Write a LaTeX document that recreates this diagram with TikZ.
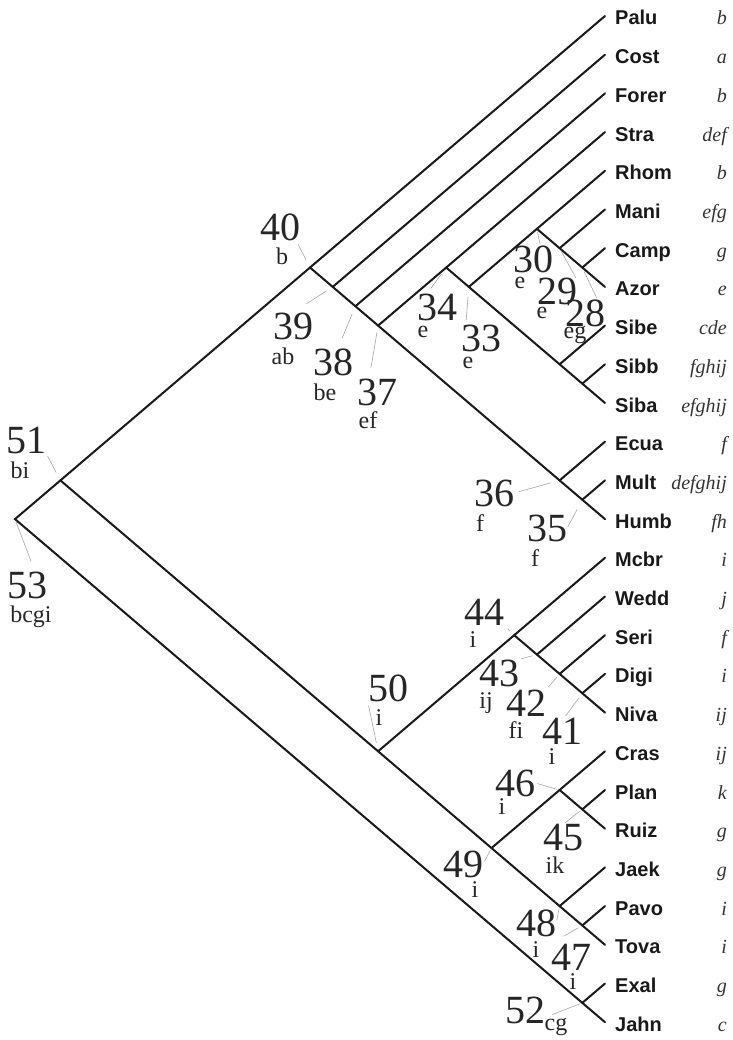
\documentclass[tikz,border=0pt]{standalone}
\usepackage{fontspec}
\setmainfont{Liberation Serif}
\setsansfont{Liberation Sans}
\usepackage{tikz}
\tikzstyle{branch} = [line width=2pt, draw=black!90, line cap=round]
\tikzstyle{leader} = [line width=0.6pt, draw=black!35]
\tikzstyle{taxon} = [anchor=base west, inner sep=0pt, text=black!90, font=\sffamily\bfseries\fontsize{20}{24}\selectfont]
\tikzstyle{area} = [anchor=base east, inner sep=0pt, text=black!80, font=\itshape\fontsize{20}{24}\selectfont]
\tikzstyle{clade} = [inner sep=0pt, text=black!85, font=\fontsize{40}{44}\selectfont]
\tikzstyle{cladearea} = [inner sep=0pt, text=black!85, font=\fontsize{24}{28}\selectfont]

\begin{document}
\begin{tikzpicture}[x=1pt, y=-1pt]
	\useasboundingbox (0,0) rectangle (732,1040);

		% Tips of the branches
		\coordinate (palu-tip) at (605,16);
		\coordinate (cost-tip) at (605,54.7);
		\coordinate (forer-tip) at (605,93.4);
		\coordinate (stra-tip) at (605,132.1);
		\coordinate (rhom-tip) at (605,170.8);
		\coordinate (mani-tip) at (605,209.5);
		\coordinate (camp-tip) at (605,248.2);
		\coordinate (azor-tip) at (605,286.9);
		\coordinate (sibe-tip) at (605,325.6);
		\coordinate (sibb-tip) at (605,364.3);
		\coordinate (siba-tip) at (605,403);
		\coordinate (ecua-tip) at (605,441.7);
		\coordinate (mult-tip) at (605,480.4);
		\coordinate (humb-tip) at (605,519.1);
		\coordinate (mcbr-tip) at (605,557.8);
		\coordinate (wedd-tip) at (605,596.5);
		\coordinate (seri-tip) at (605,635.2);
		\coordinate (digi-tip) at (605,673.9);
		\coordinate (niva-tip) at (605,712.6);
		\coordinate (cras-tip) at (605,751.3);
		\coordinate (plan-tip) at (605,790);
		\coordinate (ruiz-tip) at (605,828.7);
		\coordinate (jaek-tip) at (605,867.4);
		\coordinate (pavo-tip) at (605,906.1);
		\coordinate (tova-tip) at (605,944.8);
		\coordinate (exal-tip) at (605,983.5);
		\coordinate (jahn-tip) at (605,1022.2);

		% Clade nodes
		\coordinate (n53) at (15,519.1);
		\coordinate (n52) at (582.3,1002.85);
		\coordinate (n51) at (60.4,480.4);
		\coordinate (n50) at (378.1,751.3);
		\coordinate (n49) at (491.5,848.05);
		\coordinate (n48) at (559.6,906.1);
		\coordinate (n47) at (582.3,925.45);
		\coordinate (n46) at (559.6,790);
		\coordinate (n45) at (582.3,809.35);
		\coordinate (n44) at (514.2,635.2);
		\coordinate (n43) at (536.9,654.55);
		\coordinate (n42) at (559.6,673.9);
		\coordinate (n41) at (582.3,693.25);
		\coordinate (n40) at (310,267.55);
		\coordinate (n39) at (332.7,286.9);
		\coordinate (n38) at (355.4,306.25);
		\coordinate (n37) at (378.1,325.6);
		\coordinate (n36) at (559.6,480.4);
		\coordinate (n35) at (582.3,499.75);
		\coordinate (n34) at (446.2,267.55);
		\coordinate (n33) at (468.8,286.9);
		\coordinate (n32) at (559.6,364.3);
		\coordinate (n31) at (582.3,383.65);
		\coordinate (n30) at (536.9,228.85);
		\coordinate (n29) at (559.6,248.2);
		\coordinate (n28) at (582.3,267.55);

		% Draw the taxa
		\node (palu) [taxon] at (615,25) {Palu};
		\node (cost) [taxon] at (615,63.7) {Cost};
		\node (forer) [taxon] at (615,102.4) {Forer};
		\node (stra) [taxon] at (615,141.1) {Stra};
		\node (rhom) [taxon] at (615,179.8) {Rhom};
		\node (mani) [taxon] at (615,218.5) {Mani};
		\node (camp) [taxon] at (615,257.2) {Camp};
		\node (azor) [taxon] at (615,295.9) {Azor};
		\node (sibe) [taxon] at (615,334.6) {Sibe};
		\node (sibb) [taxon] at (615,373.3) {Sibb};
		\node (siba) [taxon] at (615,412) {Siba};
		\node (ecua) [taxon] at (615,450.7) {Ecua};
		\node (mult) [taxon] at (615,489.4) {Mult};
		\node (humb) [taxon] at (615,528.1) {Humb};
		\node (mcbr) [taxon] at (615,566.8) {Mcbr};
		\node (wedd) [taxon] at (615,605.5) {Wedd};
		\node (seri) [taxon] at (615,644.2) {Seri};
		\node (digi) [taxon] at (615,682.9) {Digi};
		\node (niva) [taxon] at (615,721.6) {Niva};
		\node (cras) [taxon] at (615,760.3) {Cras};
		\node (plan) [taxon] at (615,799) {Plan};
		\node (ruiz) [taxon] at (615,837.7) {Ruiz};
		\node (jaek) [taxon] at (615,876.4) {Jaek};
		\node (pavo) [taxon] at (615,915.1) {Pavo};
		\node (tova) [taxon] at (615,953.8) {Tova};
		\node (exal) [taxon] at (615,992.5) {Exal};
		\node (jahn) [taxon] at (615,1031.2) {Jahn};

		% Areas of the taxa
		\node (palu-ar) [area] at (727,25) {b};
		\node (cost-ar) [area] at (727,63.7) {a};
		\node (forer-ar) [area] at (727,102.4) {b};
		\node (stra-ar) [area] at (727,141.1) {def};
		\node (rhom-ar) [area] at (727,179.8) {b};
		\node (mani-ar) [area] at (727,218.5) {efg};
		\node (camp-ar) [area] at (727,257.2) {g};
		\node (azor-ar) [area] at (727,295.9) {e};
		\node (sibe-ar) [area] at (727,334.6) {cde};
		\node (sibb-ar) [area] at (727,373.3) {fghij};
		\node (siba-ar) [area] at (727,412) {efghij};
		\node (ecua-ar) [area] at (727,450.7) {f};
		\node (mult-ar) [area] at (727,489.4) {defghij};
		\node (humb-ar) [area] at (727,528.1) {fh};
		\node (mcbr-ar) [area] at (727,566.8) {i};
		\node (wedd-ar) [area] at (727,605.5) {j};
		\node (seri-ar) [area] at (727,644.2) {f};
		\node (digi-ar) [area] at (727,682.9) {i};
		\node (niva-ar) [area] at (727,721.6) {ij};
		\node (cras-ar) [area] at (727,760.3) {ij};
		\node (plan-ar) [area] at (727,799) {k};
		\node (ruiz-ar) [area] at (727,837.7) {g};
		\node (jaek-ar) [area] at (727,876.4) {g};
		\node (pavo-ar) [area] at (727,915.1) {i};
		\node (tova-ar) [area] at (727,953.8) {i};
		\node (exal-ar) [area] at (727,992.5) {g};
		\node (jahn-ar) [area] at (727,1031.2) {c};

		% Draw the branches
		\draw [branch] (palu-tip) -- (n40) -- (n51) -- (n53) -- (n52) -- (jahn-tip);
		\draw [branch] (n40) -- (n39) -- (n38) -- (n37) -- (n36) -- (n35) -- (humb-tip);
		\draw [branch] (n39) -- (cost-tip);
		\draw [branch] (n38) -- (forer-tip);
		\draw [branch] (n37) -- (n34) -- (stra-tip);
		\draw [branch] (n34) -- (n33) -- (n32) -- (n31) -- (siba-tip);
		\draw [branch] (n33) -- (n30) -- (rhom-tip);
		\draw [branch] (n30) -- (n29) -- (n28) -- (azor-tip);
		\draw [branch] (n29) -- (mani-tip);
		\draw [branch] (n28) -- (camp-tip);
		\draw [branch] (n32) -- (sibe-tip);
		\draw [branch] (n31) -- (sibb-tip);
		\draw [branch] (n36) -- (ecua-tip);
		\draw [branch] (n35) -- (mult-tip);
		\draw [branch] (n51) -- (n50) -- (n49) -- (n48) -- (n47) -- (tova-tip);
		\draw [branch] (n50) -- (n44) -- (mcbr-tip);
		\draw [branch] (n44) -- (n43) -- (n42) -- (n41) -- (niva-tip);
		\draw [branch] (n43) -- (wedd-tip);
		\draw [branch] (n42) -- (seri-tip);
		\draw [branch] (n41) -- (digi-tip);
		\draw [branch] (n49) -- (n46) -- (cras-tip);
		\draw [branch] (n46) -- (n45) -- (ruiz-tip);
		\draw [branch] (n45) -- (plan-tip);
		\draw [branch] (n48) -- (jaek-tip);
		\draw [branch] (n47) -- (pavo-tip);
		\draw [branch] (n52) -- (exal-tip);

		% Clade numbers and their areas
		\node (num40) [clade] at (280,227) {40};
		\node (ar40) [cladearea] at (282,256) {b};
		\node (num39) [clade] at (293,326) {39};
		\node (ar39) [cladearea] at (283,356) {ab};
		\node (num38) [clade] at (333,362) {38};
		\node (ar38) [cladearea] at (325,392) {be};
		\node (num37) [clade] at (377,392) {37};
		\node (ar37) [cladearea] at (368,420) {ef};
		\node (num34) [clade] at (437,307) {34};
		\node (ar34) [cladearea] at (423,332) {e};
		\node (num33) [clade] at (481,338) {33};
		\node (ar33) [cladearea] at (468,363) {e};
		\node (num30) [clade] at (533,259) {30};
		\node (ar30) [cladearea] at (520,283) {e};
		\node (num29) [clade] at (557,291) {29};
		\node (ar29) [cladearea] at (542,313) {e};
		\node (num28) [clade] at (585,313) {28};
		\node (ar28) [cladearea] at (575,335) {eg};
		\node (num36) [clade] at (494,493) {36};
		\node (ar36) [cladearea] at (480,523) {f};
		\node (num35) [clade] at (547,528) {35};
		\node (ar35) [cladearea] at (535,558) {f};
		\node (num51) [clade] at (26,440) {51};
		\node (ar51) [cladearea] at (20,470) {bi};
		\node (num53) [clade] at (27,585) {53};
		\node (ar53) [cladearea] at (31,617) {bcgi};
		\node (num50) [clade] at (388,688) {50};
		\node (ar50) [cladearea] at (379,718) {i};
		\node (num44) [clade] at (484,612) {44};
		\node (ar44) [cladearea] at (473,640) {i};
		\node (num43) [clade] at (499,673) {43};
		\node (ar43) [cladearea] at (486,703) {ij};
		\node (num42) [clade] at (526,703) {42};
		\node (ar42) [cladearea] at (516,730) {fi};
		\node (num41) [clade] at (562,731) {41};
		\node (ar41) [cladearea] at (552,757) {i};
		\node (num46) [clade] at (515,783) {46};
		\node (ar46) [cladearea] at (502,807) {i};
		\node (num45) [clade] at (563,838) {45};
		\node (ar45) [cladearea] at (555,865) {ik};
		\node (num49) [clade] at (463,864) {49};
		\node (ar49) [cladearea] at (475,890) {i};
		\node (num48) [clade] at (536,923) {48};
		\node (ar48) [cladearea] at (536,950) {i};
		\node (num47) [clade] at (571,957) {47};
		\node (ar47) [cladearea] at (573,982) {i};
		\node (num52) [clade] at (525,1010) {52};
		\node (ar52) [cladearea] at (556,1027) {cg};

		% Leader lines
		\draw [leader, shorten <=9pt, shorten >=4pt] (n40) -- (num40.-40);
		\draw [leader, shorten <=7.6pt, shorten >=16pt] (n39) -- (num39.north);
		\draw [leader, shorten <=8.6pt, shorten >=10.7pt] (n38) -- (num38.70);
		\draw [leader, shorten <=7pt, shorten >=10.7pt] (n37) -- (num37.120);
		\draw [leader, shorten <=8pt, shorten >=6pt] (n34) -- (num34.126);
		\draw [leader, shorten <=10pt, shorten >=4.5pt] (n33) -- (num33.138);
		\draw [leader, shorten <=3pt, shorten >=1pt] (n30) -- (num30.62);
		\draw [leader, shorten <=3pt, shorten >=3pt] (n29) -- (num29.28);
		\draw [leader, shorten <=4.5pt, shorten >=1pt] (n28) -- (num28.48);
		\draw [leader, shorten <=9pt, shorten >=5pt] (n36) -- (num36.east);
		\draw [leader, shorten <=11pt, shorten >=1pt] (n35) -- (num35.east);
		\draw [leader, shorten <=9pt, shorten >=3pt] (n51) -- (num51.south east);
		\draw [leader, shorten <=3pt, shorten >=10.7pt] (n53) -- (num53.60);
		\draw [leader, shorten <=8.6pt, shorten >=3.8pt] (n50) -- (num50.south west);
		\draw [leader, shorten <=6pt, shorten >=5pt] (n44) -- (num44.south east);
		\draw [leader, shorten <=4.6pt, shorten >=2pt] (n43) -- (num43.north east);
		\draw [leader, shorten <=4pt, shorten >=3.4pt] (n42) -- (num42.north east);
		\draw [leader, shorten <=5.7pt, shorten >=2pt] (n41) -- (num41.80);
		\draw [leader, shorten <=2.6pt, shorten >=2pt] (n46) -- (num46.east);
		\draw [leader, shorten <=2.7pt, shorten >=2.7pt] (n45) -- (num45.north);
		\draw [leader, shorten <=2.5pt, shorten >=3pt] (n49) -- (num49.east);
		\draw [leader, shorten <=2.5pt, shorten >=3pt] (n48) -- (num48.east);
		\draw [leader, shorten <=4.6pt, shorten >=15pt] (n47) -- (num47.north west);
		\draw [leader, shorten <=2.3pt, shorten >=7.5pt] (n52) -- (num52.-20);

	\end{tikzpicture}
\end{document}
